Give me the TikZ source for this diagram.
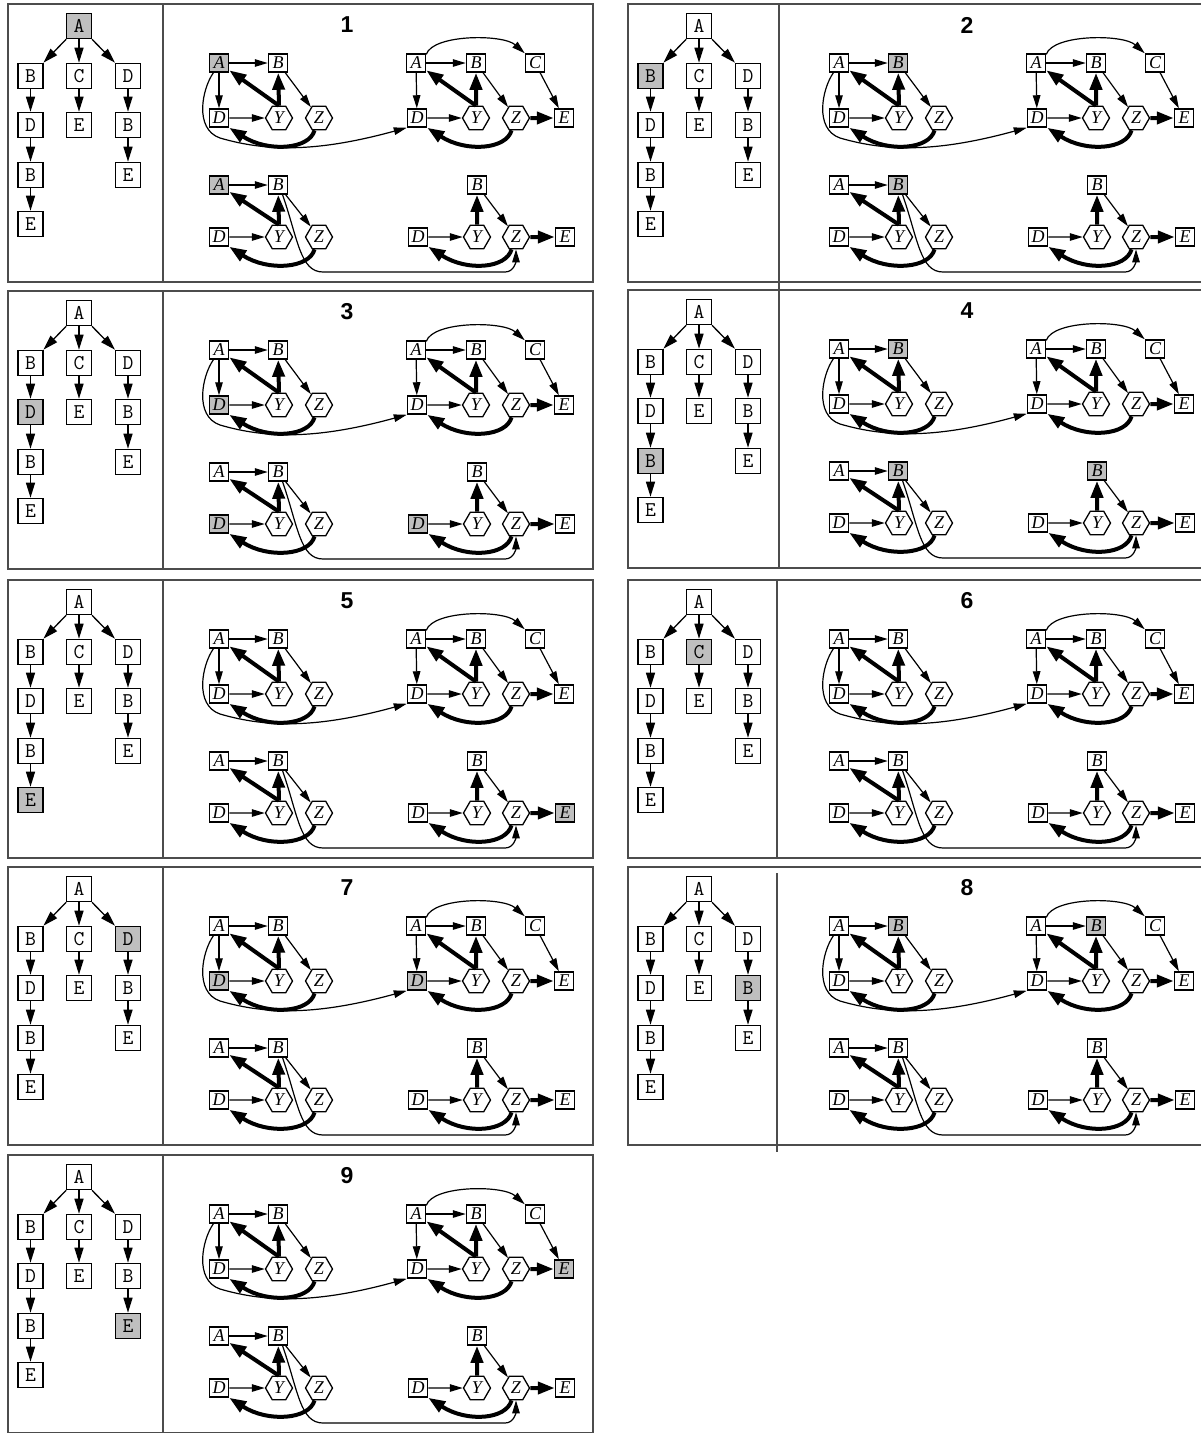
\documentclass[tikz,border=0pt]{standalone}
\usepackage{fontspec}
\setmainfont{Liberation Serif}
\newfontfamily\titlefont{Liberation Sans}
\usetikzlibrary{shapes.geometric,arrows.meta}
\definecolor{hlgray}{gray}{0.75}
\definecolor{framecol}{gray}{0.3}
\tikzset{
 tbox/.style={draw, line width=1.6pt, fill=white, minimum width=25pt, minimum height=25pt, inner sep=0pt, font=\ttfamily\fontsize{21}{21}\selectfont},
 gbox/.style={draw, line width=1.5pt, fill=white, minimum width=19pt, minimum height=18pt, inner sep=0pt, font=\fontsize{18}{18}\selectfont\itshape},
 ghex/.style={draw, regular polygon, regular polygon sides=6, line width=1.3pt, fill=white, minimum size=27pt, inner sep=0pt, font=\fontsize{18}{18}\selectfont\itshape},
 ptitle/.style={font=\titlefont\bfseries\fontsize{23}{23}\selectfont},
 pframe/.style={draw=framecol, line width=1.5pt},
 tarr/.style={line width=1.3pt, -{Triangle[length=15pt,width=9pt]}},
 tedge/.style={line width=1.2pt, -{Triangle[length=13pt,width=7.5pt]}},
 kedge/.style={line width=4pt, -{Triangle[length=17pt,width=12pt]}},
 hilite/.code={\tikzset{#1/.style={fill=hlgray}}},
 htA/.style={}, htB1/.style={}, htD1/.style={}, htB2/.style={}, htE1/.style={},
 htC/.style={}, htE2/.style={}, htD2/.style={}, htB3/.style={}, htE3/.style={},
 haA/.style={}, haB/.style={}, haD/.style={},
 hbA/.style={}, hbB/.style={}, hbC/.style={}, hbD/.style={}, hbE/.style={},
 hcA/.style={}, hcB/.style={}, hcD/.style={},
 hdB/.style={}, hdD/.style={}, hdE/.style={}
}
% #1 number, #2 x, #3 y, #4 divider x, #5/#6 divider y range, #7 highlights
\newcommand\drawpanel[7]{%
\begin{scope}[shift={(#2,#3)}, #7]
 \draw[pframe] (0,0) rectangle (585,278);
 \draw[pframe] (#4,#5) -- (#4,#6);
 \node[ptitle] (p#1title) at (339,21) {#1};
 % search tree
 \node[tbox,htA]  (p#1tA)  at (71,22)   {A};
 \node[tbox,htB1] (p#1tB1) at (22.5,72) {B};
 \node[tbox,htC]  (p#1tC)  at (71,72)   {C};
 \node[tbox,htD2] (p#1tD2) at (120,72)  {D};
 \node[tbox,htD1] (p#1tD1) at (22.5,121) {D};
 \node[tbox,htE2] (p#1tE2) at (71,121)  {E};
 \node[tbox,htB3] (p#1tB3) at (120,121) {B};
 \node[tbox,htB2] (p#1tB2) at (22.5,171) {B};
 \node[tbox,htE3] (p#1tE3) at (120,171) {E};
 \node[tbox,htE1] (p#1tE1) at (22.5,220) {E};
 \draw[tarr] (p#1tA) -- (p#1tB1);
 \draw[tarr] (p#1tA) -- (p#1tC);
 \draw[tarr] (p#1tA) -- (p#1tD2);
 \draw[tarr] (p#1tB1) -- (p#1tD1);
 \draw[tarr] (p#1tD1) -- (p#1tB2);
 \draw[tarr] (p#1tB2) -- (p#1tE1);
 \draw[tarr] (p#1tC) -- (p#1tE2);
 \draw[tarr] (p#1tD2) -- (p#1tB3);
 \draw[tarr] (p#1tB3) -- (p#1tE3);
 % top-left graph
 \node[gbox,haA] (p#1aA) at (211,59) {A};
 \node[gbox,haB] (p#1aB) at (270,59) {B};
 \node[gbox,haD] (p#1aD) at (211,114) {D};
 \node[ghex] (p#1aY) at (271,114) {Y};
 \node[ghex] (p#1aZ) at (311,114) {Z};
 % top-right graph
 \node[gbox,hbA] (p#1bA) at (408,59) {A};
 \node[gbox,hbB] (p#1bB) at (468,59) {B};
 \node[gbox,hbC] (p#1bC) at (527,59) {C};
 \node[gbox,hbD] (p#1bD) at (409,114) {D};
 \node[ghex] (p#1bY) at (468,114) {Y};
 \node[ghex] (p#1bZ) at (508,114) {Z};
 \node[gbox,hbE] (p#1bE) at (556,114) {E};
 % bottom-left graph
 \node[gbox,hcA] (p#1cA) at (211,181) {A};
 \node[gbox,hcB] (p#1cB) at (270,181) {B};
 \node[gbox,hcD] (p#1cD) at (211,233) {D};
 \node[ghex] (p#1cY) at (271,233) {Y};
 \node[ghex] (p#1cZ) at (311,233) {Z};
 % bottom-right graph
 \node[gbox,hdB] (p#1dB) at (469,181) {B};
 \node[gbox,hdD] (p#1dD) at (410,233) {D};
 \node[ghex] (p#1dY) at (469,233) {Y};
 \node[ghex] (p#1dZ) at (508,233) {Z};
 \node[gbox,hdE] (p#1dE) at (557,233) {E};
 % edges top-left
 \draw[tedge] (p#1aA) -- (p#1aB);
 \draw[tedge] (p#1aA) -- (p#1aD);
 \draw[tedge] (p#1aB) -- (p#1aZ);
 \draw[tedge] (p#1aD) -- (p#1aY);
 \draw[kedge] (p#1aY.north) -- (p#1aA);
 \draw[kedge] (p#1aY.north) -- (p#1aB);
 \draw[kedge] (p#1aZ.250) .. controls +(-5,19) and +(39,25) .. (p#1aD.south east);
 \draw[tedge] (p#1aA.240) .. controls (194,85) and (186,125) .. (212,134)
    .. controls (260,148) and (310,148) .. (p#1bD.south west);
 % edges top-right
 \draw[tedge] (p#1bA) -- (p#1bB);
 \draw[tedge] (p#1bA) -- (p#1bD);
 \draw[tedge] (p#1bA.40) .. controls (425,30) and (495,30) .. (p#1bC.north west);
 \draw[tedge] (p#1bB) -- (p#1bZ);
 \draw[tedge] (p#1bD) -- (p#1bY);
 \draw[tedge] (p#1bC) -- (p#1bE);
 \draw[kedge] (p#1bY.north) -- (p#1bA);
 \draw[kedge] (p#1bY.north) -- (p#1bB);
 \draw[kedge] (p#1bZ) -- (p#1bE);
 \draw[kedge] (p#1bZ.250) .. controls +(-5,19) and +(39,25) .. (p#1bD.south east);
 % edges bottom-left
 \draw[tedge] (p#1cA) -- (p#1cB);
 \draw[tedge] (p#1cB) -- (p#1cZ);
 \draw[tedge] (p#1cD) -- (p#1cY);
 \draw[kedge] (p#1cY.north) -- (p#1cA);
 \draw[kedge] (p#1cY.north) -- (p#1cB);
 \draw[kedge] (p#1cZ.250) .. controls +(-5,19) and +(39,25) .. (p#1cD.south east);
 \draw[tedge] (p#1cB.-65) .. controls (290,235) and (292,268) .. (315,268) -- (497,268)
    .. controls (506,268) and +(0,12) .. (p#1dZ.south);
 % edges bottom-right
 \draw[tedge] (p#1dB) -- (p#1dZ);
 \draw[tedge] (p#1dD) -- (p#1dY);
 \draw[kedge] (p#1dY.north) -- (p#1dB);
 \draw[kedge] (p#1dZ) -- (p#1dE);
 \draw[kedge] (p#1dZ.250) .. controls +(-5,19) and +(39,25) .. (p#1dD.south east);
\end{scope}}
\begin{document}
\begin{tikzpicture}[x=1pt,y=-1pt]
\useasboundingbox[fill=white] (0,0) rectangle (1201,1433);
\drawpanel{1}{8}{4}{155}{0}{278}{hilite=htA, hilite=haA, hilite=hcA}
\drawpanel{2}{628}{4}{151}{0}{286}{hilite=htB1, hilite=haB, hilite=hcB}
\drawpanel{3}{8}{291}{155}{0}{278}{hilite=htD1, hilite=haD, hilite=hcD, hilite=hdD}
\drawpanel{4}{628}{290}{151}{-5}{278}{hilite=htB2, hilite=haB, hilite=hcB, hilite=hdB}
\drawpanel{5}{8}{580}{155}{0}{278}{hilite=htE1, hilite=hdE}
\drawpanel{6}{628}{580}{149}{0}{278}{hilite=htC}
\drawpanel{7}{8}{867}{155}{0}{278}{hilite=htD2, hilite=haD, hilite=hbD}
\drawpanel{8}{628}{867}{149}{6}{285}{hilite=htB3, hilite=haB, hilite=hbB}
\drawpanel{9}{8}{1155}{155}{0}{277}{hilite=htE3, hilite=hbE}
\end{tikzpicture}
\end{document}
